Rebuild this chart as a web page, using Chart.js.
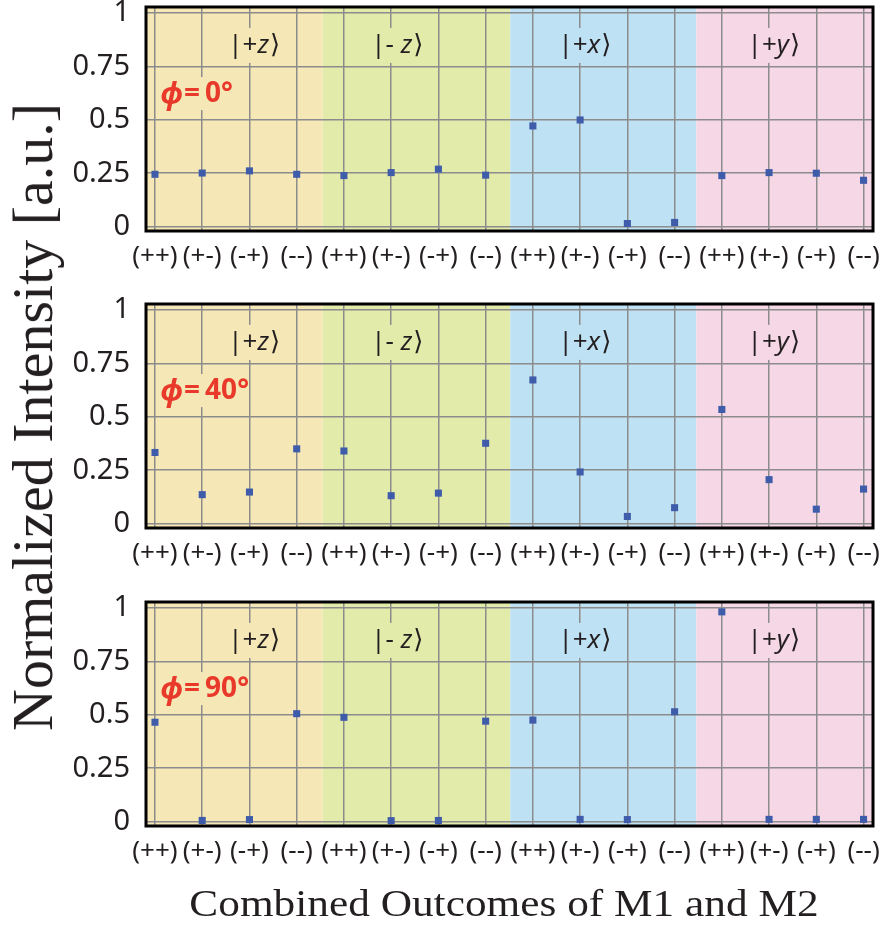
<!DOCTYPE html>
<html><head><meta charset="utf-8">
<script src="https://cdn.jsdelivr.net/npm/chart.js@4.4.1/dist/chart.umd.min.js"></script>
<style>
html,body{margin:0;padding:0;background:#fff;width:880px;height:927px;overflow:hidden;}
canvas.panel{position:absolute;left:0;}
#ytitle{position:absolute;left:33px;top:417px;transform:translate(-50%,-50%) rotate(-90deg);font:58px "Liberation Serif";white-space:nowrap;color:#231f20;line-height:1;}
#xtitle{position:absolute;left:504px;top:903px;transform:translate(-50%,-50%) scaleX(1.14);font:38px "Liberation Serif";white-space:nowrap;color:#231f20;line-height:1;}
</style></head>
<body>
<canvas id="c0" class="panel" width="880" height="297" style="top:0px"></canvas>
<canvas id="c1" class="panel" width="880" height="297" style="top:297px"></canvas>
<canvas id="c2" class="panel" width="880" height="297" style="top:595px"></canvas>
<div id="ytitle">Normalized Intensity [a.u.]</div>
<div id="xtitle">Combined Outcomes of M1 and M2</div>
<script>
// ---- data ----
const outcomes = ['(++)','(+-)','(-+)','(--)','(++)','(+-)','(-+)','(--)','(++)','(+-)','(-+)','(--)','(++)','(+-)','(-+)','(--)'];
const yTickValues = [0, 0.25, 0.5, 0.75, 1];
const phiAngles = ['0°', '40°', '90°'];
const intensityPhi0  = [0.245,0.251,0.261,0.245,0.239,0.253,0.269,0.241,0.471,0.499,0.015,0.020,0.239,0.253,0.250,0.217];
const intensityPhi40 = [0.333,0.136,0.148,0.350,0.340,0.131,0.143,0.376,0.672,0.242,0.034,0.075,0.534,0.206,0.068,0.162];
const intensityPhi90 = [0.465,0.006,0.010,0.505,0.488,0.005,0.006,0.470,0.475,0.011,0.010,0.514,0.981,0.011,0.011,0.011];
const groupKets = ['+z', '- z', '+x', '+y'];
const groupEdges = [-0.19, 3.55, 7.52, 11.46, 15.2];
const groupColors = ['#f6e8b6', '#e3ebab', '#bee1f3', '#f6d7e6'];
const groupLabelAt = [2.1, 5.13, 9.1, 13.1];
const panels = [intensityPhi0, intensityPhi40, intensityPhi90];

const TEXT = '#231f20';
const GRID = '#8c8c8c';

function bandColorAt(v){
  for (let i = 0; i < groupColors.length; i++) if (v >= groupEdges[i] && v <= groupEdges[i+1]) return groupColors[i];
  return '#fff';
}

function makePlugin(angle){
  return {
    id: 'deco',
    beforeDraw(chart){
      const {ctx, chartArea:a, scales:{x}} = chart;
      ctx.save();
      for (let i = 0; i < groupColors.length; i++){
        const x0 = Math.max(a.left, x.getPixelForValue(groupEdges[i]));
        const x1 = Math.min(a.right, x.getPixelForValue(groupEdges[i+1]));
        ctx.fillStyle = groupColors[i];
        ctx.fillRect(x0, a.top, x1 - x0, a.bottom - a.top);
      }
      ctx.restore();
    },
    beforeDatasetsDraw(chart){
      const {ctx, chartArea:a, scales:{x, y}} = chart;
      ctx.save();
      ctx.textBaseline = 'middle';
      // ket labels
      const cy = y.getPixelForValue(0.845);
      groupKets.forEach((k, i) => {
        const pre = '|' + k.slice(0, -1);
        const letter = k.slice(-1);
        const post = '\u27E9';
        const fN = '26px "Noto Sans", "DejaVu Sans"';
        const fI = 'italic 26px "Noto Sans", "DejaVu Sans"';
        ctx.font = fN; const w1 = ctx.measureText(pre).width; const w3 = ctx.measureText(post).width;
        ctx.font = fI; const w2 = ctx.measureText(letter).width;
        const tw = w1 + w2 + w3 + 1;
        const cx = x.getPixelForValue(groupLabelAt[i]);
        const lx = cx - tw / 2;
        ctx.fillStyle = bandColorAt(groupLabelAt[i]);
        ctx.fillRect(lx - 3, cy - 18, tw + 6, 35);
        ctx.fillStyle = TEXT;
        ctx.textAlign = 'left';
        ctx.font = fN; ctx.fillText(pre, lx, cy);
        ctx.font = fI; ctx.fillText(letter, lx + w1, cy);
        ctx.font = fN; ctx.fillText(post, lx + w1 + w2 + 1, cy);
      });
      // phi label
      const px = x.getPixelForValue(0.11);
      const py = y.getPixelForValue(0.62);
      const fPhi = 'italic bold 30px "Noto Sans", "DejaVu Sans"';
      const fEq = 'bold 28px "Noto Sans", "DejaVu Sans"';
      ctx.font = fPhi; const wp = ctx.measureText('\u03D5').width;
      ctx.font = fEq; const we = ctx.measureText('=').width; const wa = ctx.measureText(angle).width;
      const gap = 6;
      const total = wp + we + wa + gap;
      ctx.fillStyle = bandColorAt(0.5);
      ctx.fillRect(px + 8, py - 17, total - 8, 33);
      ctx.fillStyle = '#e8392b';
      ctx.font = fPhi; ctx.fillText('\u03D5', px, py + 1);
      ctx.font = fEq; ctx.fillText('=', px + wp + 1, py);
      ctx.fillText(angle, px + wp + we + gap, py);
      ctx.restore();
    },
    afterDraw(chart){
      const {ctx, chartArea:a} = chart;
      ctx.save();
      ctx.strokeStyle = '#000';
      ctx.lineWidth = 3;
      ctx.strokeRect(a.left, a.top, a.right - a.left, a.bottom - a.top);
      ctx.restore();
    }
  };
}

panels.forEach((vals, p) => {
  new Chart(document.getElementById('c' + p), {
    type: 'scatter',
    data: {
      datasets: [{
        data: vals.map((v, i) => ({x: i, y: v})),
        backgroundColor: '#3f5cab',
        borderWidth: 0,
        pointStyle: 'rect',
        pointRadius: 5,
        pointHoverRadius: 5
      }]
    },
    options: {
      responsive: false,
      animation: false,
      events: [],
      layout: {padding: {top: 7, right: 7, left: 0, bottom: 0}},
      plugins: {legend: {display: false}, tooltip: {enabled: false}},
      scales: {
        x: {
          type: 'linear', min: -0.19, max: 15.2,
          afterBuildTicks: s => { s.ticks = outcomes.map((_, i) => ({value: i})); },
          afterFit: s => { s.height = 66; s.paddingLeft = 0; s.paddingRight = 0; },
          ticks: {callback: v => outcomes[v], autoSkip: false, maxRotation: 0, minRotation: 0, padding: 10,
                  font: {family: '"Noto Sans"', size: 26}, color: TEXT},
          grid: {color: GRID, lineWidth: 1.5, drawTicks: false},
          border: {display: false}
        },
        y: {
          min: -0.02, max: 1.027,
          afterBuildTicks: s => { s.ticks = yTickValues.map(v => ({value: v})); },
          afterFit: s => { s.width = 146; s.paddingTop = 0; s.paddingBottom = 0; },
          ticks: {callback: v => String(v), padding: 16, font: {family: '"Noto Sans"', size: 29}, color: TEXT},
          grid: {color: GRID, lineWidth: 1.5, drawTicks: false},
          border: {display: false}
        }
      }
    },
    plugins: [makePlugin(phiAngles[p])]
  });
});
</script>
</body></html>
